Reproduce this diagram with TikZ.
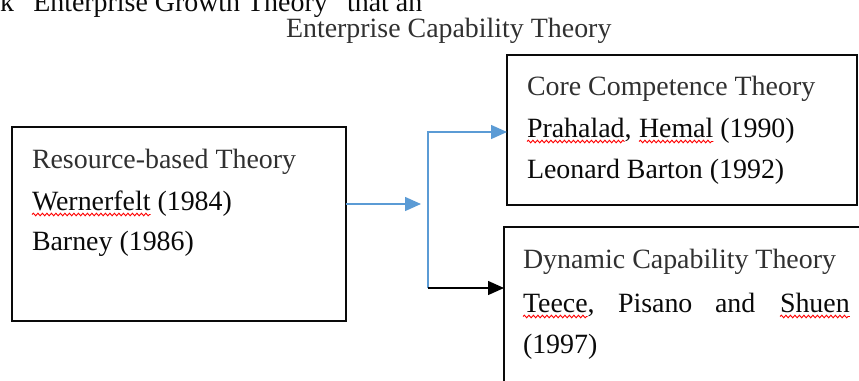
\documentclass[tikz,border=0pt]{standalone}
\usepackage{fontspec}
\setmainfont{Liberation Serif}
\usetikzlibrary{arrows.meta,decorations.pathmorphing}
\definecolor{linkblue}{HTML}{5B9BD5}
\definecolor{inkgray}{HTML}{0A0A0A}
\definecolor{headgray}{HTML}{303030}
\begin{document}
\begin{tikzpicture}[x=1pt,y=-1pt,
  txt/.style={anchor=base west, inner sep=0pt, outer sep=0pt,
    font=\fontsize{27.9}{34}\selectfont, text=inkgray},
  headtxt/.style={txt, text=headgray},
  boxframe/.style={draw=inkgray, line width=1.5pt, inner sep=0pt, outer sep=0pt},
  spell/.style={draw=red, line width=0.9pt, decorate,
    decoration={snake, amplitude=1.3pt, segment length=4.5pt}},
  flow/.style={line width=1.4pt, -{Triangle[length=16pt,width=14pt]}}]
\useasboundingbox (0,0) rectangle (859,380);

% running text above the figure
\node[txt] (cut) at (0,11) {k “Enterprise Growth Theory” that an};
\node[headtxt] (head) at (286,37) {Enterprise Capability Theory};

% frames
\begin{scope}
  \clip (0,0) rectangle (859,380);
  \node[boxframe, minimum width=334pt, minimum height=194pt] (rbt) at (179,224) {};
  \node[boxframe, minimum width=350pt, minimum height=150pt] (cct) at (682,130) {};
  \node[boxframe, minimum width=396pt, minimum height=193pt] (dct) at (702,323.5) {};
\end{scope}

% resource-based theory
\node[headtxt] (r1) at (32,168) {Resource-based Theory};
\node[txt] (wern) at (32,210) {Wernerfelt};
\node[txt] (wyear) at (wern.base east) {\ (1984)};
\node[txt] (barn) at (32,250) {Barney (1986)};

% core competence theory
\node[headtxt] (c1) at (527,95) {Core Competence Theory};
\node[txt] (pra) at (527,137) {Prahalad};
\node[txt] (pcom) at (pra.base east) {,};
\node[txt] (hem) at (639,137) {Hemal};
\node[txt] (hyear) at (hem.base east) {\ (1990)};
\node[txt] (leo) at (527,178) {Leonard Barton (1992)};

% dynamic capability theory
\node[headtxt] (d1) at (523,268) {Dynamic Capability Theory};
\node[txt] (tee) at (523,312) {Teece};
\node[txt] (tcom) at (tee.base east) {,};
\node[txt] (pis) at (618,312) {Pisano};
\node[txt] (and) at (715,312) {and};
\node[txt] (shu) at (780,312) {Shuen};
\node[txt] (dyear) at (523,353) {(1997)};

% spelling marks
\foreach \w in {wern,pra,hem,tee,shu}
  \draw[spell] ([yshift=-4.5pt]\w.base west) -- ([yshift=-4.5pt]\w.base east);

% connectors
\coordinate (forkin) at (421,204);
\coordinate (ftop) at (428,132);
\coordinate (fbot) at (428,288);
\draw[flow, draw=linkblue] (rbt.east |- forkin) -- (forkin);
\draw[flow, draw=linkblue] (fbot) -- (ftop) -- (ftop -| cct.west);
\draw[flow, draw=black] (fbot) -- (fbot -| dct.west);
\end{tikzpicture}
\end{document}
